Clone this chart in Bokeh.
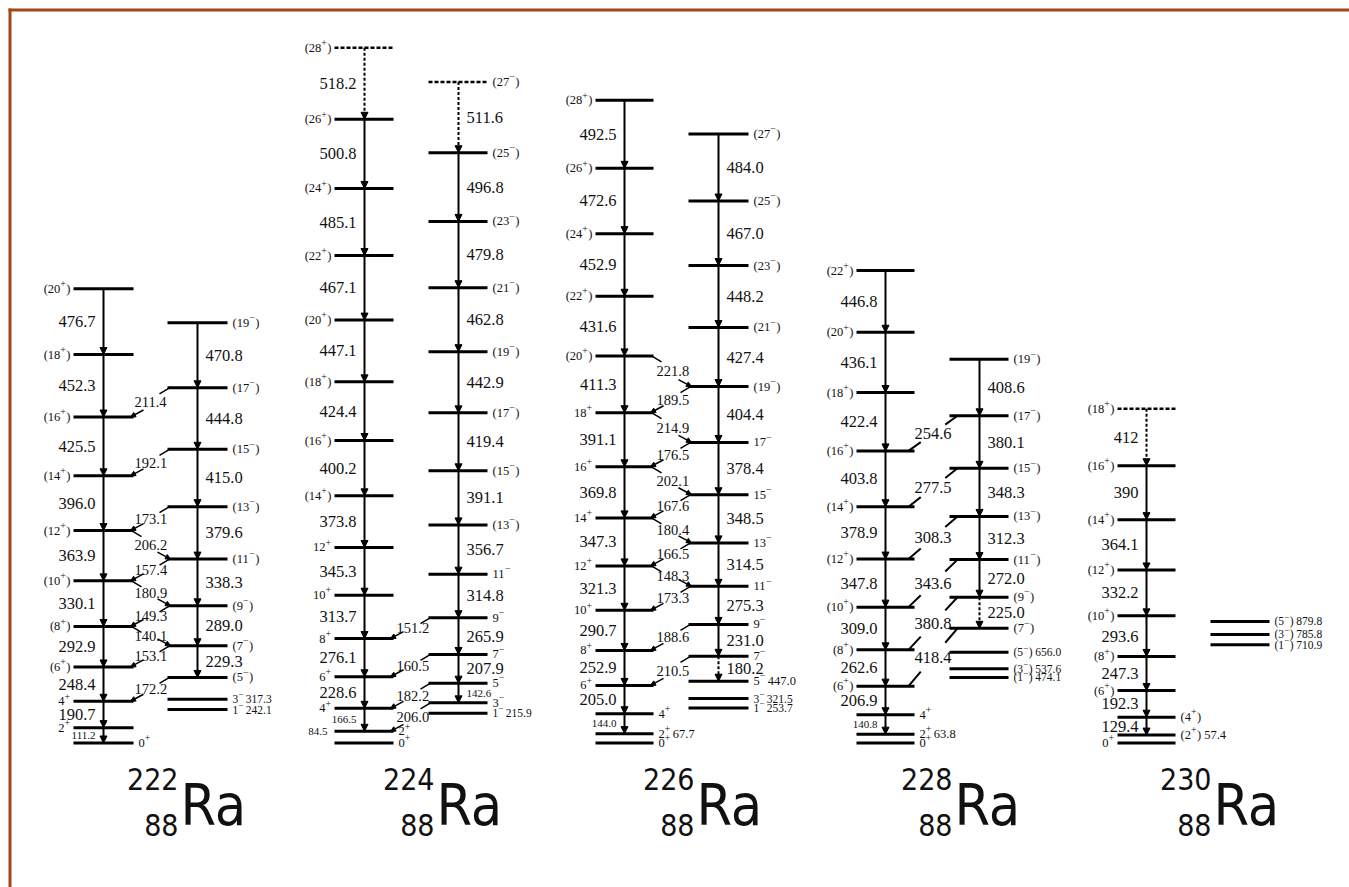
import numpy as np
from bokeh.plotting import figure
from bokeh.models import Range1d, ColumnDataSource, Arrow, NormalHead
from bokeh.core.properties import value
from bokeh.embed import file_html
from bokeh.resources import INLINE

# ---------------- data (keV) ----------------
# 222Ra
ra222_gsb_spin = ["0⁺", "2⁺", "4⁺", "(6⁺)", "(8⁺)", "(10⁺)", "(12⁺)", "(14⁺)", "(16⁺)", "(18⁺)", "(20⁺)"]
ra222_gsb_gamma = ["111.2", "190.7", "248.4", "292.9", "330.1", "363.9", "396.0", "425.5", "452.3", "476.7"]
ra222_neg_spin = ["(5⁻)", "(7⁻)", "(9⁻)", "(11⁻)", "(13⁻)", "(15⁻)", "(17⁻)", "(19⁻)"]
ra222_neg_gamma = ["229.3", "289.0", "338.3", "379.6", "415.0", "444.8", "470.8"]
ra222_neg_start = "474.1"
ra222_low_spin = ["3⁻", "1⁻"]
ra222_low_energy = ["317.3", "242.1"]
ra222_link_gamma = ["211.4", "192.1", "173.1", "206.2", "157.4", "180.9", "149.3", "140.1", "153.1", "172.2"]
ra222_link_gsb = [8, 7, 6, 6, 5, 5, 4, 4, 3, 2]
ra222_link_neg = [6, 5, 4, 3, 3, 2, 2, 1, 1, 0]

# 224Ra
ra224_gsb_spin = ["0⁺", "2⁺", "4⁺", "6⁺", "8⁺", "10⁺", "12⁺", "(14⁺)", "(16⁺)", "(18⁺)", "(20⁺)",
                  "(22⁺)", "(24⁺)", "(26⁺)", "(28⁺)"]
ra224_gsb_gamma = ["84.5", "166.5", "228.6", "276.1", "313.7", "345.3", "373.8", "400.2", "424.4",
                   "447.1", "467.1", "485.1", "500.8", "518.2"]
ra224_neg_spin = ["3⁻", "5⁻", "7⁻", "9⁻", "11⁻", "(13⁻)", "(15⁻)", "(17⁻)", "(19⁻)", "(21⁻)",
                  "(23⁻)", "(25⁻)", "(27⁻)"]
ra224_neg_gamma = ["142.6", "207.9", "265.9", "314.8", "356.7", "391.1", "419.4", "442.9", "462.8",
                   "479.8", "496.8", "511.6"]
ra224_neg_start = "290.4"
ra224_low_spin = ["1⁻"]
ra224_low_energy = ["215.9"]
ra224_link_gamma = ["151.2", "160.5", "182.2", "206.0"]
ra224_link_gsb = [4, 3, 2, 1]
ra224_link_neg = [3, 2, 1, 0]

# 226Ra
ra226_gsb_spin = ["0⁺", "2⁺", "4⁺", "6⁺", "8⁺", "10⁺", "12⁺", "14⁺", "16⁺", "18⁺", "(20⁺)", "(22⁺)",
                  "(24⁺)", "(26⁺)", "(28⁺)"]
ra226_gsb_gamma = ["67.7", "144.0", "205.0", "252.9", "290.7", "321.3", "347.3", "369.8", "391.1",
                   "411.3", "431.6", "452.9", "472.6", "492.5"]
ra226_neg_spin = ["5⁻", "7⁻", "9⁻", "11⁻", "13⁻", "15⁻", "17⁻", "(19⁻)", "(21⁻)", "(23⁻)", "(25⁻)", "(27⁻)"]
ra226_neg_gamma = ["180.2", "231.0", "275.3", "314.5", "348.5", "378.4", "404.4", "427.4", "448.2",
                   "467.0", "484.0"]
ra226_neg_start = "447.0"
ra226_low_spin = ["3⁻", "1⁻"]
ra226_low_energy = ["321.5", "253.7"]
ra226_link_gamma = ["221.8", "189.5", "214.9", "176.5", "202.1", "167.6", "180.4", "166.5", "148.3",
                    "173.3", "188.6", "210.5"]
ra226_link_gsb = [10, 9, 9, 8, 8, 7, 7, 6, 6, 5, 4, 3]
ra226_link_neg = [7, 7, 6, 6, 5, 5, 4, 4, 3, 3, 2, 1]

# 228Ra
ra228_gsb_spin = ["0⁺", "2⁺", "4⁺", "(6⁺)", "(8⁺)", "(10⁺)", "(12⁺)", "(14⁺)", "(16⁺)", "(18⁺)",
                  "(20⁺)", "(22⁺)"]
ra228_gsb_gamma = ["63.8", "140.8", "206.9", "262.6", "309.0", "347.8", "378.9", "403.8", "422.4",
                   "436.1", "446.8"]
ra228_neg_spin = ["(7⁻)", "(9⁻)", "(11⁻)", "(13⁻)", "(15⁻)", "(17⁻)", "(19⁻)"]
ra228_neg_gamma = ["225.0", "272.0", "312.3", "348.3", "380.1", "408.6"]
ra228_neg_start = "829.9"
ra228_low_spin = ["(5⁻)", "(3⁻)", "(1⁻)"]
ra228_low_energy = ["656.0", "537.6", "474.1"]
ra228_link_gamma = ["254.6", "277.5", "308.3", "343.6", "380.8", "418.4"]
ra228_link_gsb = [8, 7, 6, 5, 4, 3]
ra228_link_neg = [5, 4, 3, 2, 1, 0]

# 230Ra
ra230_gsb_spin = ["0⁺", "(2⁺)", "(4⁺)", "(6⁺)", "(8⁺)", "(10⁺)", "(12⁺)", "(14⁺)", "(16⁺)", "(18⁺)"]
ra230_gsb_gamma = ["57.4", "129.4", "192.3", "247.3", "293.6", "332.2", "364.1", "390", "412"]
ra230_low_spin = ["(5⁻)", "(3⁻)", "(1⁻)"]
ra230_low_energy = ["879.8", "785.8", "710.9"]

nucleus_mass = ["222", "224", "226", "228", "230"]
nucleus_z = "88"
nucleus_symbol = "Ra"

# ---------------- layout ----------------
PX = 0.1382      # pixels per keV
Y0 = 742.5       # page y of 0 keV
W, H = 1349, 887


def E_of(ypage):
    return (Y0 - ypage) / PX


def dE(px):
    return px / PX


SERIF = "Liberation Serif"
BIG = "'DejaVu Sans Condensed', 'Liberation Sans', Arial, sans-serif"
GAM, SMALL, SPIN, LINK = 16.5, 11, 12.5, 14.5
INK = "#111111"

p = figure(width=W, height=H, output_backend="svg", toolbar_location=None,
           x_range=Range1d(0, W), y_range=Range1d(E_of(H), E_of(0)),
           x_axis_location=None, y_axis_location=None, min_border=0,
           background_fill_color="white", border_fill_color="white")
p.outline_line_color = None
p.grid.visible = False
p.xgrid.visible = False
p.ygrid.visible = False

LEV = dict(x0=[], x1=[], y=[])
LEVD = dict(x0=[], x1=[], y=[])
ARR = dict(xs=[], ys=[], xe=[], ye=[])
ARRD = dict(xs=[], ys=[], xe=[], ye=[])
ARRS = dict(xs=[], ys=[], xe=[], ye=[])
SEG = dict(x0=[], y0=[], x1=[], y1=[])
SEGL = dict(x0=[], y0=[], x1=[], y1=[])
TXT = {}

WT = {c: 0.5 for c in "0123456789"}
WT.update({"(": 0.333, ")": 0.333, " ": 0.25, ".": 0.25})


def T(x, y, s, align="left", size=GAM, font=SERIF, baseline="middle"):
    d = TXT.setdefault((align, size, font, baseline), dict(x=[], y=[], t=[]))
    d["x"].append(x)
    d["y"].append(y)
    d["t"].append(s)


def tw(s, size):
    return sum(WT.get(c, 0.5) for c in s) * size


def spin_text(x, y, s, align, size):
    k = -1
    for sign in "⁺⁻":
        if sign in s:
            k = s.index(sign)
            break
    if k < 0:
        T(x, y, s, align, size)
        return
    pre, post = s[:k], s[k + 1:]
    sgn = "+" if s[k] == "⁺" else "−"
    ss = round(size * 0.78, 1)
    gap = 2.5 if post.startswith(" ") else 0.5
    wpre, wpost, wsg = tw(pre, size), tw(post, size), 0.564 * ss + gap
    xl = x if align == "left" else x - (wpre + wsg + wpost)
    T(xl, y, pre, "left", size)
    T(xl + wpre, y + dE(0.42 * size), sgn, "left", ss)
    if post:
        T(xl + wpre + wsg, y, post, "left", size)


def add_level(x0, x1, e, dashed=False):
    d = LEVD if dashed else LEV
    d["x0"].append(x0)
    d["x1"].append(x1)
    d["y"].append(e)


def band(xs, spins, gammas, e0, side, first_arrow=0, dashed_gamma=(), dashed_level=(),
         right_idx=(), energy_idx=(), energy_left_idx=(), small_idx=(), start_label=None):
    x0, x1, ax = xs
    E = [float(e0)]
    for v in gammas:
        E.append(E[-1] + float(v))
    for i, e in enumerate(E):
        add_level(x0, x1, e, i in dashed_level)
    for i in range(first_arrow, len(gammas)):
        d = ARRD if i in dashed_gamma else ARR
        d["xs"].append(ax); d["ys"].append(E[i + 1]); d["xe"].append(ax); d["ye"].append(E[i])
        mid = 0.5 * (E[i] + E[i + 1])
        size = SMALL if i in small_idx else GAM
        if side == "left":
            T(ax - 8, mid, gammas[i], "right", size)
        else:
            T(ax + 8, mid, gammas[i], "left", size)
    for i, s in enumerate(spins):
        lab = s
        if i in energy_idx:
            lab = s + " " + gammas[i - 1]
        if i == 0 and start_label is not None:
            lab = s + " " + start_label
        if side == "right" or i in right_idx:
            spin_text(x1 + 5, E[i], lab, "left", SPIN)
        else:
            spin_text(x0 - 3, E[i], lab, "right", SPIN)
        if i in energy_left_idx:
            T(x0 - 7, E[i], gammas[i - 1], "right", SMALL)
    return E


def low(x0, x1, spins, energies):
    for s, e in zip(spins, energies):
        add_level(x0, x1, float(e))
        spin_text(x1 + 5, float(e), s + " " + e, "left", SPIN - 1)


def links(Eg, En, gx, nx, gammas, gi, ni, style, lab_x=None):
    xg1, xn0 = gx[1], nx[0]
    for s, a, b in zip(gammas, gi, ni):
        eg, en = Eg[a], En[b]
        mid = 0.5 * (eg + en)
        if style == "stub":
            T(lab_x, mid, s, "left", LINK)
            if en > eg:
                ARRS["xs"].append(xg1 + 10); ARRS["ys"].append(eg + dE(7))
                ARRS["xe"].append(xg1 - 3); ARRS["ye"].append(eg)
                SEG["x0"].append(xn0 + 2); SEG["y0"].append(en)
                SEG["x1"].append(xn0 - 8); SEG["y1"].append(en - dE(6))
            else:
                ARRS["xs"].append(xn0 - 10); ARRS["ys"].append(en + dE(7))
                ARRS["xe"].append(xn0 + 3); ARRS["ye"].append(en)
                SEG["x0"].append(xg1 - 2); SEG["y0"].append(eg)
                SEG["x1"].append(xg1 + 8); SEG["y1"].append(eg - dE(6))
        else:
            xa, ya, xb, yb = xg1 - 6, eg, xn0 + 8, en
            for t0, t1 in ((0.0, 0.25), (0.75, 1.0)):
                SEGL["x0"].append(xa + t0 * (xb - xa)); SEGL["y0"].append(ya + t0 * (yb - ya))
                SEGL["x1"].append(xa + t1 * (xb - xa)); SEGL["y1"].append(ya + t1 * (yb - ya))
            T(0.5 * (xa + xb), mid, s, "center", GAM)


# ---- 222Ra ----
g222, n222 = (73, 133, 103), (167, 227, 197)
E = band(g222, ra222_gsb_spin, ra222_gsb_gamma, 0.0, "left", first_arrow=0, right_idx={0}, small_idx={0})
N = band(n222, ra222_neg_spin, ra222_neg_gamma, ra222_neg_start, "right")
low(n222[0], n222[1], ra222_low_spin, ra222_low_energy)
links(E, N, g222, n222, ra222_link_gamma, ra222_link_gsb, ra222_link_neg, "stub", lab_x=134)

# ---- 224Ra ----
g224, n224 = (334, 393, 364), (428, 487, 458)
E = band(g224, ra224_gsb_spin, ra224_gsb_gamma, 0.0, "left", first_arrow=1, right_idx={0, 1},
         energy_left_idx={1}, small_idx={1}, dashed_gamma={13}, dashed_level={14})
N = band(n224, ra224_neg_spin, ra224_neg_gamma, ra224_neg_start, "right", small_idx={0},
         dashed_gamma={11}, dashed_level={12})
low(n224[0], n224[1], ra224_low_spin, ra224_low_energy)
links(E, N, g224, n224, ra224_link_gamma, ra224_link_gsb, ra224_link_neg, "stub", lab_x=396)

# ---- 226Ra ----
g226, n226 = (595, 653, 624), (688, 748, 718)
E = band(g226, ra226_gsb_spin, ra226_gsb_gamma, 0.0, "left", first_arrow=1, right_idx={0, 1, 2},
         energy_idx={1}, small_idx={1})
N = band(n226, ra226_neg_spin, ra226_neg_gamma, ra226_neg_start, "right", dashed_gamma={0},
         start_label=ra226_neg_start)
low(n226[0], n226[1], ra226_low_spin, ra226_low_energy)
links(E, N, g226, n226, ra226_link_gamma, ra226_link_gsb, ra226_link_neg, "stub", lab_x=656)

# ---- 228Ra ----
g228, n228 = (856, 914, 885), (949, 1008, 979)
E = band(g228, ra228_gsb_spin, ra228_gsb_gamma, 0.0, "left", first_arrow=1, right_idx={0, 1, 2},
         energy_idx={1}, small_idx={1})
N = band(n228, ra228_neg_spin, ra228_neg_gamma, ra228_neg_start, "right", dashed_gamma={0})
low(n228[0], n228[1], ra228_low_spin, ra228_low_energy)
links(E, N, g228, n228, ra228_link_gamma, ra228_link_gsb, ra228_link_neg, "line")

# ---- 230Ra ----
g230 = (1117, 1175, 1146)
E = band(g230, ra230_gsb_spin, ra230_gsb_gamma, 0.0, "left", first_arrow=1, right_idx={1, 2},
         energy_idx={1}, dashed_gamma={8}, dashed_level={9})
low(1210, 1269, ra230_low_spin, ra230_low_energy)

# ---- nucleus names ----
ra_x = [180, 436, 696, 954, 1213]
for xr, a in zip(ra_x, nucleus_mass):
    T(xr, E_of(804), nucleus_symbol, "left", 57, BIG)
    T(xr - 2, E_of(778), a, "right", 30, BIG)
    T(xr - 2, E_of(824), nucleus_z, "right", 30, BIG)

# ---------------- render ----------------
BORDER = "#a3461c"
p.segment(x0=[8, 9.5], y0=[E_of(9.5), E_of(8)], x1=[W, 9.5], y1=[E_of(9.5), E_of(H)],
          line_color=BORDER, line_width=3)

p.segment(x0="x0", y0="y", x1="x1", y1="y", source=ColumnDataSource(LEV), line_width=3, line_color="black")
p.segment(x0="x0", y0="y", x1="x1", y1="y", source=ColumnDataSource(LEVD), line_width=2.5,
          line_color="black", line_dash="4 2")
p.segment(x0="x0", y0="y0", x1="x1", y1="y1", source=ColumnDataSource(SEG), line_width=1.5, line_color="black")
p.segment(x0="x0", y0="y0", x1="x1", y1="y1", source=ColumnDataSource(SEGL), line_width=2, line_color="black")


def add_arrows(d, size, width, dash="solid"):
    p.add_layout(Arrow(end=NormalHead(size=size, fill_color="black", line_color="black", line_width=1),
                       x_start="xs", y_start="ys", x_end="xe", y_end="ye",
                       source=ColumnDataSource(d), line_width=width, line_color="black", line_dash=dash))


add_arrows(ARR, 7, 2)
add_arrows(ARRD, 7, 2, "3 2")
add_arrows(ARRS, 5, 1.5)

for (align, size, font, baseline), d in TXT.items():
    p.text(x="x", y="y", text="t", source=ColumnDataSource(d), text_align=align, text_baseline=baseline,
           text_font=value(font), text_font_size=f"{size}px", text_color=INK)

open("out.html", "w").write(file_html(p, INLINE))
